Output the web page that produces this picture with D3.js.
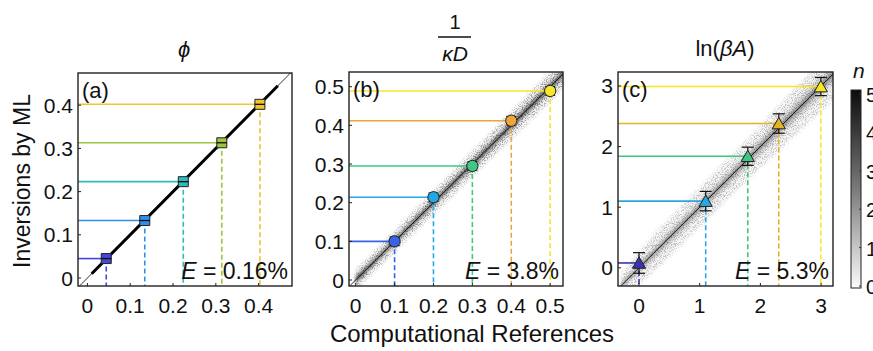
<!DOCTYPE html>
<html><head><meta charset="utf-8">
<script src="https://cdn.jsdelivr.net/npm/d3@7"></script>
<style>body{margin:0;background:#fff;} svg{display:block;font-family:"Liberation Sans",Arial,sans-serif;}</style>
</head><body><svg id="chart" width="873" height="351"></svg>
<script>
// ---------------- data ----------------
const refA = [0.044, 0.134, 0.224, 0.314, 0.403];
const mlA  = [0.045, 0.133, 0.223, 0.313, 0.402];
const errA = [0.002, 0.002, 0.002, 0.002, 0.002];
const colA = ["#4646d8", "#2f8fe8", "#2ebdbd", "#9cc63c", "#f2c42c"];

const refB = [0.1, 0.2, 0.3, 0.4, 0.5];
const mlB  = [0.100, 0.214, 0.295, 0.412, 0.489];
const errB = [0.011, 0.011, 0.011, 0.011, 0.011];
const colB = ["#3a62e6", "#22a8e6", "#3ec884", "#eca63a", "#f6e62a"];

const refC = [0, 1.0986, 1.7918, 2.3026, 2.9957];
const mlC  = [0.08, 1.10, 1.84, 2.38, 2.99];
const errC = [0.17, 0.16, 0.15, 0.16, 0.15];
const colC = ["#3a32b0", "#2aa6e4", "#40c482", "#e0b422", "#f6e622"];

const ticksA = [0, 0.1, 0.2, 0.3, 0.4];
const ticksB = [0, 0.1, 0.2, 0.3, 0.4, 0.5];
const ticksC = [0, 1, 2, 3];
const errorText = ["0.16%", "3.8%", "5.3%"];
const panelLabels = ["(a)", "(b)", "(c)"];
const cbTicks = [0, 1, 2, 3, 4, 5];

// density cloud of predictions around the diagonal: x, outer / mid / core half widths
const bandAx = [0.01, 0.445];
const bandBx     = [0.0,   0.05,  0.1,   0.2,   0.3,   0.4,   0.5,   0.54];
const bandBouter = [0.024, 0.024, 0.025, 0.028, 0.031, 0.034, 0.036, 0.036];
const bandBmid   = [0.013, 0.010, 0.010, 0.012, 0.013, 0.014, 0.015, 0.015];
const bandBcore  = [0.007, 0.004, 0.004, 0.005, 0.005, 0.006, 0.006, 0.006];
const bandCx     = [-0.3, 0,    0.5,  1,    1.5,  2,    2.5,  3,    3.25];
const bandCouter = [0.18, 0.28, 0.32, 0.32, 0.32, 0.34, 0.38, 0.42, 0.42];
const bandCmid   = [0.06, 0.10, 0.12, 0.12, 0.12, 0.14, 0.15, 0.17, 0.17];
const bandCcore  = [0.02, 0.03, 0.04, 0.04, 0.04, 0.05, 0.06, 0.06, 0.06];

// ---------------- layout ----------------
const svg = d3.select("#chart");
const defs = svg.append("defs");
const blur = defs.append("filter").attr("id","blur").attr("x","-20%").attr("y","-20%").attr("width","140%").attr("height","140%");
blur.append("feGaussianBlur").attr("stdDeviation", 1.6);
// speckle texture for the scatter cloud
const speck = defs.append("filter").attr("id","speck").attr("x","-20%").attr("y","-20%").attr("width","140%").attr("height","140%");
speck.append("feGaussianBlur").attr("in","SourceGraphic").attr("stdDeviation", 2.2).attr("result","b");
speck.append("feTurbulence").attr("type","fractalNoise").attr("baseFrequency", 0.9).attr("numOctaves", 1).attr("seed", 7).attr("result","n");
speck.append("feColorMatrix").attr("in","n").attr("type","matrix")
  .attr("values","0 0 0 0 0  0 0 0 0 0  0 0 0 0 0  7 0 0 0 -3.4").attr("result","m");
speck.append("feComposite").attr("in","b").attr("in2","m").attr("operator","in");

const panels = [
  {x0:78, x1:292, y0:73, y1:286, xd:[-0.022,0.478], yd:[-0.0185,0.4745], ticks:ticksA, fmt:d3.format(".1f"),
   ref:refA, ml:mlA, err:errA, col:colA, sym:d3.symbolSquare, size:100, cap:5},
  {x0:349, x1:563, y0:72, y1:286, xd:[-0.0172,0.533], yd:[-0.0155,0.538], ticks:ticksB, fmt:d3.format(".1f"),
   ref:refB, ml:mlB, err:errB, col:colB, sym:d3.symbolCircle, size:100, cap:5},
  {x0:618, x1:833, y0:72, y1:286, xd:[-0.346,3.196], yd:[-0.30,3.23], ticks:ticksC, fmt:d3.format("d"),
   ref:refC, ml:mlC, err:errC, col:colC, sym:d3.symbolTriangle, size:75, cap:6},
];
panels.forEach(p => { p.fmt0 = v => v === 0 ? "0" : p.fmt(v); });

panels.forEach((p, i) => {
  const x = d3.scaleLinear().domain(p.xd).range([p.x0, p.x1]);
  const y = d3.scaleLinear().domain(p.yd).range([p.y1, p.y0]);
  const clipId = "clip" + i;
  defs.append("clipPath").attr("id", clipId).append("rect")
    .attr("x", p.x0).attr("y", p.y0).attr("width", p.x1 - p.x0).attr("height", p.y1 - p.y0);
  const g = svg.append("g");
  const inner = g.append("g").attr("clip-path", `url(#${clipId})`);

  // density cloud
  const bandLayer = (xs, ws, op, filt) => {
    const pts = xs.map((v, k) => ({x: v, w: ws[k]}));
    const area = d3.area().x(d => x(d.x)).y0(d => y(d.x - d.w)).y1(d => y(d.x + d.w)).curve(d3.curveBasis);
    inner.append("path").attr("d", area(pts)).attr("fill", "#000").attr("opacity", op).attr("filter", `url(#${filt})`);
  };
  if (i === 1) {
    bandLayer(bandBx, bandBouter, 0.35, "speck");
    bandLayer(bandBx, bandBouter, 0.05, "blur");
    bandLayer(bandBx, bandBmid, 0.22, "blur");
    bandLayer(bandBx, bandBcore, 0.45, "blur");
  } else if (i === 2) {
    bandLayer(bandCx, bandCouter, 0.22, "speck");
    bandLayer(bandCx, bandCouter, 0.03, "blur");
    bandLayer(bandCx, bandCmid, 0.12, "blur");
    bandLayer(bandCx, bandCcore, 0.32, "blur");
  }

  // thin diagonal
  const lo = Math.min(p.xd[0], p.yd[0]) - 1, hi = Math.max(p.xd[1], p.yd[1]) + 1;
  inner.append("line").attr("x1", x(lo)).attr("y1", y(lo)).attr("x2", x(hi)).attr("y2", y(hi))
    .attr("stroke", "#000").attr("stroke-width", 0.8);
  if (i === 0) {
    inner.append("line").attr("x1", x(bandAx[0])).attr("y1", y(bandAx[0]))
      .attr("x2", x(bandAx[1])).attr("y2", y(bandAx[1]))
      .attr("stroke", "#000").attr("stroke-width", 3);
  }

  // guide lines
  p.ref.forEach((r, k) => {
    inner.append("line").attr("x1", p.x0).attr("x2", x(r)).attr("y1", y(p.ml[k])).attr("y2", y(p.ml[k]))
      .attr("stroke", p.col[k]).attr("stroke-width", 1.6);
    inner.append("line").attr("x1", x(r)).attr("x2", x(r)).attr("y1", y(p.ml[k])).attr("y2", p.y1)
      .attr("stroke", p.col[k]).attr("stroke-width", 1.6).attr("stroke-dasharray", "5,3");
  });

  // error bars + markers
  p.ref.forEach((r, k) => {
    const cx = x(r), ya = y(p.ml[k] - p.err[k]), yb = y(p.ml[k] + p.err[k]);
    g.append("line").attr("x1", cx).attr("x2", cx).attr("y1", ya).attr("y2", yb).attr("stroke", "#111").attr("stroke-width", 1.2);
    [ya, yb].forEach(yy => g.append("line").attr("x1", cx - p.cap).attr("x2", cx + p.cap).attr("y1", yy).attr("y2", yy)
      .attr("stroke", "#111").attr("stroke-width", 1.2));
    let ty = y(p.ml[k]);
    if (i === 2) ty += 1.5;
    g.append("path").attr("d", d3.symbol().type(p.sym).size(p.size)())
      .attr("transform", `translate(${cx},${ty})`)
      .attr("fill", p.col[k]).attr("stroke", "#222").attr("stroke-width", 1);
    if (i === 0) {
      g.append("line").attr("x1", cx - 5).attr("x2", cx + 5).attr("y1", y(p.ml[k])).attr("y2", y(p.ml[k]))
        .attr("stroke", "#111").attr("stroke-width", 1.3);
    }
  });

  // frame and ticks
  g.append("rect").attr("x", p.x0).attr("y", p.y0).attr("width", p.x1 - p.x0).attr("height", p.y1 - p.y0)
    .attr("fill", "none").attr("stroke", "#222").attr("stroke-width", 1.4);
  p.ticks.forEach(t => {
    g.append("line").attr("x1", x(t)).attr("x2", x(t)).attr("y1", p.y1).attr("y2", p.y1 - 3).attr("stroke", "#222");
    g.append("line").attr("x1", p.x0).attr("x2", p.x0 + 3).attr("y1", y(t)).attr("y2", y(t)).attr("stroke", "#222");
    g.append("text").attr("x", x(t)).attr("y", 313).attr("text-anchor", "middle")
      .attr("font-size", 21).attr("fill", "#111").text(p.fmt0(t));
    g.append("text").attr("x", p.x0 - 5).attr("y", y(t) + 7.5).attr("text-anchor", "end")
      .attr("font-size", 21).attr("fill", "#111").text(p.fmt0(t));
  });

  // panel label and error text
  g.append("text").attr("x", p.x0 + 4).attr("y", p.y0 + 25).attr("font-size", 22).attr("fill", "#111").text(panelLabels[i]);
  const et = g.append("text").attr("x", p.x1 - 4).attr("y", p.y1 - 7).attr("text-anchor", "end")
    .attr("font-size", 23).attr("fill", "#111");
  et.append("tspan").attr("font-style", "italic").text("E");
  et.append("tspan").text(" = " + errorText[i]);
});

// ---------------- titles ----------------
svg.append("text").attr("x", 184).attr("y", 57).attr("text-anchor", "middle").attr("font-size", 22)
  .attr("font-style", "italic").attr("fill", "#111").text("\u03D5");
svg.append("text").attr("x", 455).attr("y", 29).attr("text-anchor", "middle").attr("font-size", 20).attr("fill", "#111").text("1");
svg.append("line").attr("x1", 438).attr("x2", 471).attr("y1", 37).attr("y2", 37).attr("stroke", "#111").attr("stroke-width", 1.3);
svg.append("text").attr("x", 455).attr("y", 61).attr("text-anchor", "middle").attr("font-size", 21)
  .attr("font-style", "italic").attr("fill", "#111").text("\u03BAD");
const t3 = svg.append("text").attr("x", 725).attr("y", 56).attr("text-anchor", "middle").attr("font-size", 22).attr("fill", "#111");
t3.append("tspan").text("ln(");
t3.append("tspan").attr("font-style", "italic").text("\u03B2A");
t3.append("tspan").text(")");

// axis labels
svg.append("text").attr("transform", "translate(30,181) rotate(-90)").attr("text-anchor", "middle")
  .attr("font-size", 23).attr("fill", "#111").text("Inversions by ML");
svg.append("text").attr("x", 472).attr("y", 342).attr("text-anchor", "middle")
  .attr("font-size", 24).attr("fill", "#111").text("Computational References");

// ---------------- colorbar ----------------
const grad = defs.append("linearGradient").attr("id", "cbgrad").attr("x1", 0).attr("y1", 1).attr("x2", 0).attr("y2", 0);
grad.append("stop").attr("offset", "0%").attr("stop-color", "#fbfbfb");
grad.append("stop").attr("offset", "50%").attr("stop-color", "#7a7a7a");
grad.append("stop").attr("offset", "100%").attr("stop-color", "#0c0c0c");
const cbX = 851, cbW = 10, cbTop = 90, cbBot = 288;
svg.append("rect").attr("x", cbX).attr("y", cbTop).attr("width", cbW).attr("height", cbBot - cbTop)
  .attr("fill", "url(#cbgrad)").attr("stroke", "#222").attr("stroke-width", 1);
const cb = d3.scaleLinear().domain([0, 5]).range([cbBot - 2, cbTop + 4]);
cbTicks.forEach(t => {
  svg.append("line").attr("x1", cbX + cbW - 2).attr("x2", cbX + cbW).attr("y1", cb(t)).attr("y2", cb(t)).attr("stroke", "#333");
  svg.append("text").attr("x", 866).attr("y", cb(t) + 8).attr("font-size", 20).attr("fill", "#111").text(t);
});
svg.append("text").attr("x", 853).attr("y", 78).attr("font-size", 21).attr("font-style", "italic").attr("fill", "#111").text("n");
</script></body></html>
